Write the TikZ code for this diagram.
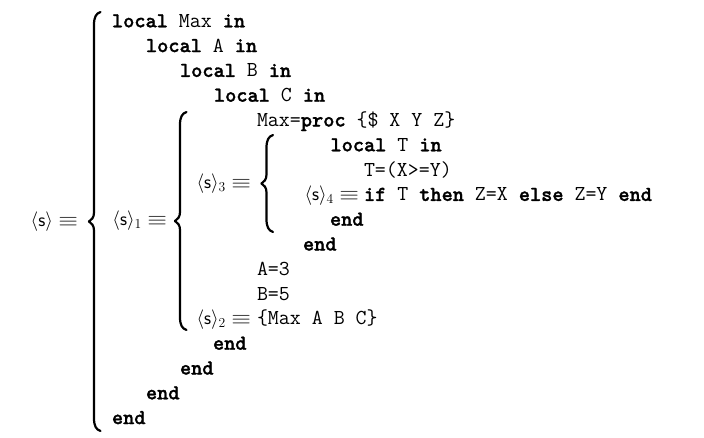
\RequirePackage{fix-cm}
\documentclass[tikz,border=0pt]{standalone}
\usepackage{graphicx}
\usepackage{fontspec}
\newfontfamily\kwfont{lmmonolt10-bold.otf}[FakeBold=1.3]
\begin{document}
\begin{tikzpicture}[x=1pt,y=-1pt,
  codeline/.style={anchor=base west,inner sep=0pt,outer sep=0pt,font=\fontsize{21.3}{24.8}\selectfont\ttfamily},
  mathlab/.style={anchor=east,inner sep=0pt,outer sep=0pt,font=\fontsize{19.5}{24.8}\selectfont},
  mathbase/.style={anchor=base east,inner sep=0pt,outer sep=0pt,font=\fontsize{19.5}{24.8}\selectfont},
  bracestroke/.style={line width=2.2pt,line cap=round,line join=round,black}]
\useasboundingbox (0,0) rectangle (704,437);
\newcommand{\eqv}{\mathrel{\scalebox{1.3}[1]{$\equiv$}}}
\newcommand{\kw}[1]{{\kwfont #1}}
\newcommand{\bracedraw}[4]{% x, top, mid, bottom
  \draw[bracestroke] ({#1+6.5},#2) .. controls ({#1+2},{#2+1.5}) and (#1,{#2+5}) .. (#1,{#2+13})
    -- (#1,{#3-9}) .. controls (#1,{#3-4}) and ({#1-2.5},{#3-1.5}) .. ({#1-5},#3)
    .. controls ({#1-2.5},{#3+1.5}) and (#1,{#3+4}) .. (#1,{#3+9})
    -- (#1,{#4-13}) .. controls (#1,{#4-5}) and ({#1+2},{#4-1.5}) .. ({#1+6.5},#4);}
% braces
\bracedraw{94}{12}{221.5}{431}
\bracedraw{180}{112}{221}{330}
\bracedraw{266.5}{135}{183.5}{232}
% labels
\node[mathlab] (s) at (78,221.5) {$\langle\mathsf{s}\rangle\eqv$};
\node[mathlab] (s1) at (167,221) {$\langle\mathsf{s}\rangle_1\eqv$};
\node[mathlab] (s3) at (251,183.5) {$\langle\mathsf{s}\rangle_3\eqv$};
\node[mathbase] (s4) at (359,200.9) {$\langle\mathsf{s}\rangle_4\eqv$};
\node[mathbase] (s2) at (251,324.9) {$\langle\mathsf{s}\rangle_2\eqv$};
% code lines
\node[codeline] (l1) at (112,27.3) {\kw{local} Max \kw{in}};
\node[codeline] (l2) at (146,52.1) {\kw{local} A \kw{in}};
\node[codeline] (l3) at (180,76.9) {\kw{local} B \kw{in}};
\node[codeline] (l4) at (214,101.7) {\kw{local} C \kw{in}};
\node[codeline] (l5) at (257,126.5) {Max=\kw{proc} \{\$ X Y Z\}};
\node[codeline] (l6) at (330.5,151.3) {\kw{local} T \kw{in}};
\node[codeline] (l7) at (364,176.1) {T=(X>=Y)};
\node[codeline] (l8) at (364,200.9) {\kw{if} T \kw{then} Z=X \kw{else} Z=Y \kw{end}};
\node[codeline] (l9) at (330,225.7) {\kw{end}};
\node[codeline] (l10) at (303,250.5) {\kw{end}};
\node[codeline] (l11) at (257,275.3) {A=3};
\node[codeline] (l12) at (257,300.1) {B=5};
\node[codeline] (l13) at (257,324.9) {\{Max A B C\}};
\node[codeline] (l14) at (213,349.7) {\kw{end}};
\node[codeline] (l15) at (180,374.5) {\kw{end}};
\node[codeline] (l16) at (146,399.3) {\kw{end}};
\node[codeline] (l17) at (112,424.1) {\kw{end}};
\end{tikzpicture}
\end{document}
